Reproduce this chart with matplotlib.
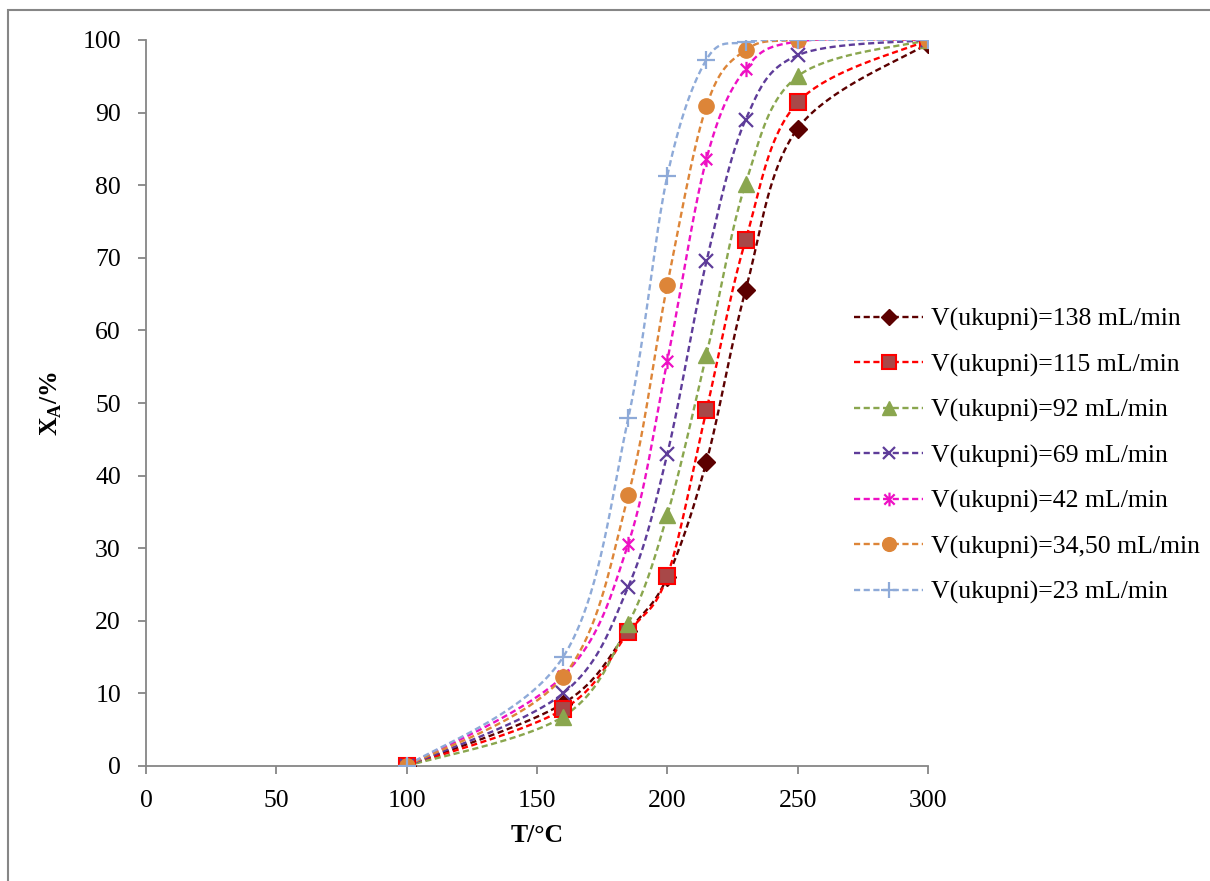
import numpy as np
import matplotlib
matplotlib.use("Agg")
import matplotlib.pyplot as plt
from matplotlib.lines import Line2D
from matplotlib.path import Path
from matplotlib.patches import Rectangle

plt.rcParams['font.family'] = ['Liberation Serif', 'DejaVu Serif']
plt.rcParams['mathtext.fontset'] = 'custom'
plt.rcParams['mathtext.rm'] = 'Liberation Serif:bold'
plt.rcParams['mathtext.bf'] = 'Liberation Serif:bold'

# temperatures (°C)
T = [100, 160, 185, 200, 215, 230, 250, 300]

# conversion X_A (%) for each total flow
x_138 = [0, 8.6, 18.6, 26.0, 41.9, 65.5, 87.8, 99.5]
x_115 = [0, 7.8, 18.4, 26.2, 49.0, 72.4, 91.4, 100]
x_92 = [0, 6.8, 19.6, 34.6, 56.6, 80.2, 95.0, 100]
x_69 = [0, 10.0, 24.7, 43.0, 69.5, 89.0, 97.9, 100]
x_42 = [0, 12.4, 30.6, 55.8, 83.6, 96.0, 99.8, 100]
x_345 = [0, 12.3, 37.3, 66.3, 90.9, 98.6, 100, 100]
x_23 = [0, 15.0, 47.9, 81.3, 97.3, 99.7, 100, 100]

labels = ['V(ukupni)=138 mL/min', 'V(ukupni)=115 mL/min', 'V(ukupni)=92 mL/min',
          'V(ukupni)=69 mL/min', 'V(ukupni)=42 mL/min', 'V(ukupni)=34,50 mL/min',
          'V(ukupni)=23 mL/min']
series = [x_138, x_115, x_92, x_69, x_42, x_345, x_23]

# excel-like asterisk: vertical line plus an X
asterisk = Path([(0, -1), (0, 1), (-0.75, -0.75), (0.75, 0.75), (-0.75, 0.75), (0.75, -0.75)],
                [Path.MOVETO, Path.LINETO, Path.MOVETO, Path.LINETO, Path.MOVETO, Path.LINETO])

styles = [
    dict(color='#5c0000', marker='D', mfc='#5c0000', mec='#5c0000', ms=9, mew=1),
    dict(color='#ff0000', marker='s', mfc='#a84848', mec='#ff0000', ms=11, mew=1.5),
    dict(color='#8aa64e', marker='^', mfc='#8aa64e', mec='#8aa64e', ms=11, mew=1),
    dict(color='#5e3c99', marker='x', mfc='none', mec='#5e3c99', ms=10, mew=1.6),
    dict(color='#ee10c4', marker=asterisk, mfc='none', mec='#ee10c4', ms=11, mew=1.6),
    dict(color='#dd8538', marker='o', mfc='#dd8538', mec='#dd8538', ms=11, mew=1),
    dict(color='#8eaad8', marker='+', mfc='none', mec='#8eaad8', ms=13, mew=1.6),
]


def excel_smooth(x, y, n=40):
    # cubic bezier through the points (catmull-rom style control points)
    p = np.column_stack([x, y]).astype(float)
    p = np.vstack([p[0], p, p[-1]])
    out = []
    t = np.linspace(0, 1, n)[:, None]
    for i in range(1, len(p) - 2):
        p0, p1, p2, p3 = p[i - 1], p[i], p[i + 1], p[i + 2]
        c1 = p1 + (p2 - p0) / 6
        c2 = p2 - (p3 - p1) / 6
        seg = (1 - t) ** 3 * p1 + 3 * (1 - t) ** 2 * t * c1 + 3 * (1 - t) * t ** 2 * c2 + t ** 3 * p2
        out.append(seg)
    out = np.vstack(out)
    return out[:, 0], out[:, 1]


fig = plt.figure(figsize=(12.1, 8.81), dpi=100)
ax = fig.add_axes([146 / 1210, 115 / 881, 782 / 1210, 726 / 881])

dash = (0, (2.6, 1.5))
lw = 1.7
handles = []
for y, lab, st in zip(series, labels, styles):
    sx, sy = excel_smooth(T, y)
    ax.plot(sx, sy, color=st['color'], lw=lw, linestyle=dash, zorder=2)
    ax.plot(T, y, linestyle='none', marker=st['marker'], mfc=st['mfc'], mec=st['mec'],
            ms=st['ms'], mew=st['mew'], zorder=3)
    handles.append(Line2D([], [], color=st['color'], lw=lw, linestyle=dash,
                          marker=st['marker'], mfc=st['mfc'], mec=st['mec'],
                          ms=st['ms'] * 0.9, mew=st['mew'], label=lab))

ax.set_xlim(0, 300)
ax.set_ylim(0, 100)
ax.set_xticks(np.arange(0, 301, 50))
ax.set_yticks(np.arange(0, 101, 10))
for s in ['top', 'right']:
    ax.spines[s].set_visible(False)
for s in ['left', 'bottom']:
    ax.spines[s].set_color('#868686')
    ax.spines[s].set_linewidth(1.3)
ax.tick_params(direction='out', length=6, width=1.3, color='#868686', labelsize=18.5)
ax.tick_params(axis='y', pad=12)
ax.tick_params(axis='x', pad=11)
ax.set_xlabel('T/°C', fontsize=18.5, fontweight='bold', labelpad=9)
ax.set_ylabel(r'X$_{\mathrm{A}}$/%', fontsize=18.5, fontweight='bold', labelpad=13)

ax.legend(handles=handles, loc='center left', bbox_to_anchor=(854 / 1210, 1 - 456 / 881),
          bbox_transform=fig.transFigure, frameon=False, fontsize=18.5,
          handlelength=2.7, handletextpad=0.3, labelspacing=0.86, borderpad=0,
          borderaxespad=0)

# chart area border
fig.patches.append(Rectangle((8 / 1210, -0.1), 1.2, (881 - 10) / 881 + 0.1,
                             transform=fig.transFigure, fill=False,
                             edgecolor='#868686', lw=1.5))

fig.savefig('out.png', dpi=100)
